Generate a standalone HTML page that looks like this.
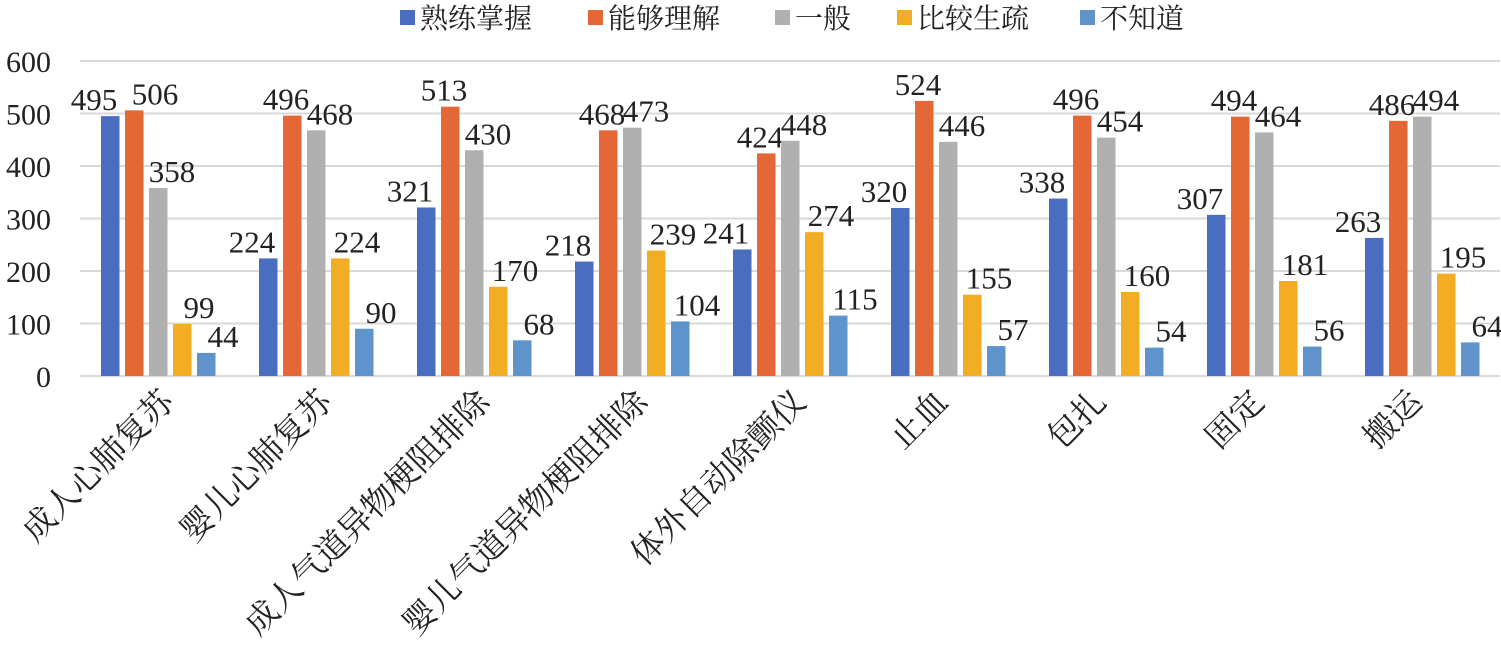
<!DOCTYPE html>
<html><head><meta charset="utf-8"><style>body{margin:0;background:#fff}</style></head><body>
<svg width="1501" height="653" xmlns="http://www.w3.org/2000/svg" font-family="Liberation Serif, Noto Serif CJK SC, serif">
<g id="grid" stroke="#d9d9d9" stroke-width="2"></g>
<g id="bars"></g>
<g id="leg" font-size="28" fill="#222"></g>
<script>
const g=document.getElementById('grid'),b=document.getElementById('bars'),L=document.getElementById('leg');
const NS='http://www.w3.org/2000/svg';
function el(p,t,a,txt){const e=document.createElementNS(NS,t);for(const k in a)e.setAttribute(k,a[k]);if(txt!=null)e.textContent=txt;p.appendChild(e);return e;}
const y0=376,s=0.525;
for(let v=0;v<=600;v+=100){const y=y0-v*s;el(g,'line',{x1:80,x2:1500,y1:y,y2:y});el(b,'text',{x:51,y:y+11,'font-size':30,'text-anchor':'end',fill:'#222'},v);}
const cols=['#4A6EBF','#E36836','#B1B0B0','#F2AD24','#5E93CB'];
const names=['熟练掌握','能够理解','一般','比较生疏','不知道'];
const cats=['成人心肺复苏','婴儿心肺复苏','成人气道异物梗阻排除','婴儿气道异物梗阻排除','体外自动除颤仪','止血','包扎','固定','搬运'];
const d=[[495,506,358,99,44],[224,496,468,224,90],[321,513,430,170,68],[218,468,473,239,104],[241,424,448,274,115],[320,524,446,155,57],[338,496,454,160,54],[307,494,464,181,56],[263,486,494,195,64]];
const off=[-16,-6,14,17,17];
d.forEach((r,i)=>{const c=158+158*i;r.forEach((v,j)=>{const x=c-48+24*j-9;const h=v*s;
el(b,'rect',{x:x,y:y0-h,width:18.5,height:h,fill:cols[j]});
let o=off[j]; if(i==0&&j==1)o=21;
el(b,'text',{x:x+9+o,y:y0-h-6,'font-size':31,'text-anchor':'middle',fill:'#222'},v);});
const ax=c+(i<5?2:-14);
el(b,'text',{x:ax,y:388,'font-size':33,'text-anchor':'end',fill:'#222',transform:`rotate(-45 ${ax} 388)`,'dominant-baseline':'hanging'},cats[i]);});
const lx=[400,588,775,897,1080];
names.forEach((n,j)=>{el(L,'rect',{x:lx[j],y:10,width:15,height:15,fill:cols[j]});el(L,'text',{x:lx[j]+20,y:28},n);});
</script>
</svg>
</body></html>
